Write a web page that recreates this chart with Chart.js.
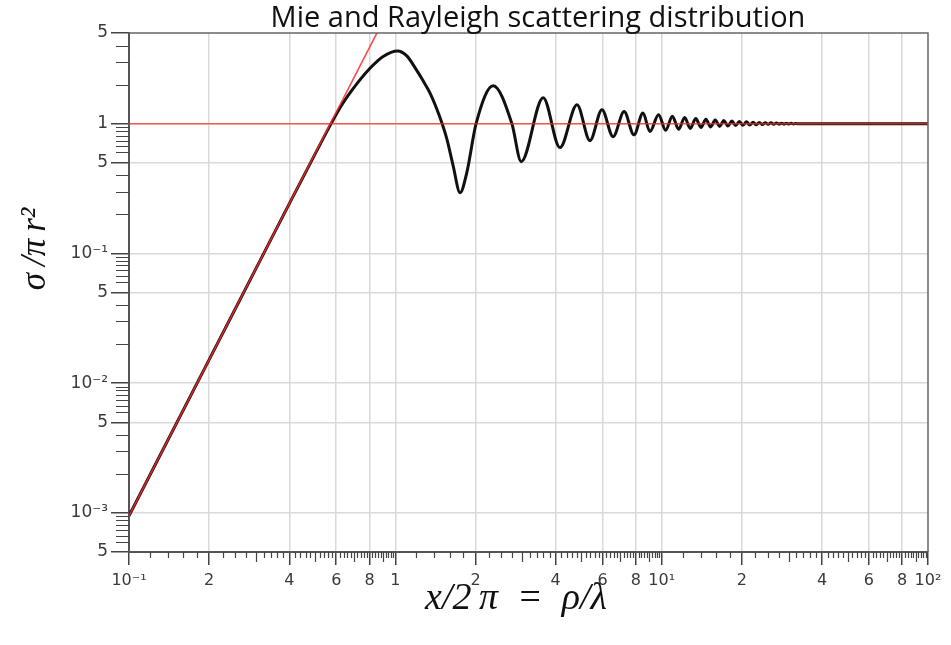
<!DOCTYPE html>
<html>
<head>
<meta charset="utf-8">
<title>Mie and Rayleigh scattering distribution</title>
<script src="https://cdn.jsdelivr.net/npm/chart.js@4.4.1/dist/chart.umd.min.js"></script>
<style>
  html, body { margin: 0; padding: 0; background: #fff; }
  #wrap { width: 951px; height: 645px; position: relative; }
</style>
</head>
<body>
<div id="wrap"><canvas id="mieChart"></canvas></div>
<script>
// Mie curve (black): x = rho/lambda, y = sigma / (pi r^2)
const mieX = [0.1, 0.2, 0.3, 0.4, 0.5, 0.57, 0.63, 0.68, 0.8, 0.9, 1.02,
  1.104, 1.2, 1.27, 1.35, 1.47, 1.56, 1.647, 1.75, 1.855, 2.01, 2.33, 2.74,
  2.97, 3.59, 4.15, 4.81, 5.38, 5.97, 6.57, 7.23, 7.87, 8.51,
  9.03, 9.74, 10.35, 10.97, 11.58, 12.2, 12.8, 13.43, 14.05, 14.66,
  15.27, 15.89, 16.5, 17.12, 17.73, 18.35, 18.96, 19.58, 20.2, 20.81,
  21.42, 22.04, 22.65, 23.27, 23.88, 24.5, 25.11, 25.73, 26.34, 26.96,
  27.57, 28.19, 28.8, 29.42, 30.03, 30.65, 31.26, 31.88, 32.5, 40,
  60, 100];
const mieY = [0.00095, 0.0152, 0.0767, 0.242, 0.585, 0.975, 1.4, 1.76, 2.65, 3.3, 3.64,
  3.33, 2.6, 2.15, 1.72, 1.12, 0.767, 0.478, 0.294, 0.42, 1.0, 1.96, 1.0,
  0.51, 1.585, 0.654, 1.40, 0.74, 1.28, 0.794, 1.24, 0.82, 1.21,
  0.87, 1.17, 0.89, 1.14, 0.905, 1.115, 0.92, 1.095, 0.935, 1.08,
  0.945, 1.068, 0.953, 1.058, 0.96, 1.048, 0.967, 1.04, 0.972, 1.034,
  0.977, 1.028, 0.981, 1.023, 0.985, 1.019, 0.988, 1.015, 0.99, 1.012,
  0.992, 1.01, 0.994, 1.008, 0.995, 1.006, 0.996, 1.005, 0.997, 1.0,
  1.0, 1.0];

// Rayleigh asymptote and geometric-optics limit (red)
const rayleighX = [0.1, 0.9];
const rayleighY = [0.00095, 6.2];
const geometricX = [0.1, 100];
const geometricY = [1, 1];

// axis ticks
const xTickValues = [0.1, 0.2, 0.4, 0.6, 0.8, 1, 2, 4, 6, 8, 10, 20, 40, 60, 80, 100];
const xTickLabels = ['10⁻¹', '2', '4', '6', '8', '1', '2', '4', '6', '8', '10¹', '2', '4', '6', '8', '10²'];
const yTickValues = [0.0005, 0.001, 0.005, 0.01, 0.05, 0.1, 0.5, 1, 5];
const yTickLabels = ['5', '10⁻³', '5', '10⁻²', '5', '10⁻¹', '5', '1', '5'];

// unlabeled small ticks, as mantissas per decade
const decades = [0.0001, 0.001, 0.01, 0.1, 1, 10];
const xMinorMantissas = [1.2, 1.4, 1.6, 1.8, 2.25, 2.5, 2.75, 3.2, 3.4, 3.6, 3.8, 4.2, 4.4, 4.6, 4.8,
  5.2, 5.4, 5.6, 5.8, 6.2, 6.4, 6.6, 6.8, 7.2, 7.4, 7.6, 7.8, 8.2, 8.4, 8.6, 8.8, 9.2, 9.4, 9.6, 9.8];
const xMidMantissas = [3, 5, 7, 9];
const yMinorMantissas = [2, 3, 4, 6, 6.7, 7.4, 8.1, 8.8, 9.4];

const toPoints = (xs, ys) => xs.map((x, i) => ({ x: x, y: ys[i] }));

const axisExtras = {
    id: 'axisExtras',
    afterDraw(chart) {
        const { ctx, chartArea: area, scales } = chart;
        const xs = scales.x;
        const ys = scales.y;
        ctx.save();

        // top and right frame
        ctx.strokeStyle = '#666';
        ctx.lineWidth = 1.5;
        ctx.beginPath();
        ctx.moveTo(area.left, area.top);
        ctx.lineTo(area.right, area.top);
        ctx.lineTo(area.right, area.bottom);
        ctx.stroke();

        // small ticks
        ctx.strokeStyle = '#444';
        ctx.lineWidth = 1.2;
        ctx.beginPath();
        decades.forEach(d => {
            xMinorMantissas.concat(xMidMantissas).forEach(m => {
                const v = m * d;
                if (v <= xs.min || v >= xs.max) return;
                const px = Math.round(xs.getPixelForValue(v)) + 0.5;
                const len = xMidMantissas.includes(m) ? 10 : 6;
                ctx.moveTo(px, area.bottom);
                ctx.lineTo(px, area.bottom + len);
            });
            yMinorMantissas.forEach(m => {
                const v = m * d;
                if (v <= ys.min || v >= ys.max) return;
                const py = Math.round(ys.getPixelForValue(v)) + 0.5;
                ctx.moveTo(area.left - 13, py);
                ctx.lineTo(area.left, py);
            });
        });
        ctx.stroke();

        // titles
        ctx.fillStyle = '#111';
        ctx.textAlign = 'center';
        ctx.textBaseline = 'alphabetic';
        ctx.font = '29px "Open Sans"';
        ctx.fillText('Mie and Rayleigh scattering distribution', 538, 27);

        ctx.font = 'italic 38px "Liberation Serif"';
        ctx.fillText('x/2\u2009π\u2002=\u2002ρ/λ', 516, 609);

        ctx.font = 'italic 35px "Liberation Serif"';
        ctx.translate(45, 249);
        ctx.rotate(-Math.PI / 2);
        ctx.fillText('σ\u2009/π\u2009r²', 0, 0);
        ctx.restore();
    }
};

new Chart(document.getElementById('mieChart'), {
    type: 'line',
    data: {
        datasets: [
            {
                label: 'Rayleigh',
                data: toPoints(rayleighX, rayleighY),
                borderColor: 'rgba(255, 40, 40, 0.85)',
                borderWidth: 1.6,
                pointRadius: 0,
                order: 0,
            },
            {
                label: 'Geometric',
                data: toPoints(geometricX, geometricY),
                borderColor: 'rgba(255, 40, 40, 0.75)',
                borderWidth: 1.6,
                pointRadius: 0,
                order: 0,
            },
            {
                label: 'Mie',
                data: toPoints(mieX, mieY),
                borderColor: '#111',
                borderWidth: 3,
                pointRadius: 0,
                cubicInterpolationMode: 'monotone',
                borderJoinStyle: 'round',
                order: 1,
            },
        ],
    },
    options: {
        responsive: true,
        maintainAspectRatio: false,
        animation: false,
        layout: { padding: { top: 33, right: 23, left: 0, bottom: 0 } },
        plugins: {
            legend: { display: false },
            tooltip: { enabled: false },
            title: { display: false },
        },
        scales: {
            x: {
                type: 'logarithmic',
                min: 0.1,
                max: 100,
                afterBuildTicks: scale => { scale.ticks = xTickValues.map(v => ({ value: v })); },
                afterFit: scale => { scale.height = 93; },
                ticks: {
                    autoSkip: false,
                    maxRotation: 0,
                    padding: 6,
                    color: '#3a3a3a',
                    font: { family: 'DejaVu Sans', size: 16 },
                    callback: (value, index) => xTickLabels[index],
                },
                grid: {
                    color: c => (c.index === 0 || c.index === xTickValues.length - 1) ? 'rgba(0,0,0,0)' : '#dadada',
                    lineWidth: 1.5,
                    tickColor: '#444',
                    tickLength: 13,
                    tickWidth: 1.5,
                },
                border: { color: '#555', width: 2 },
            },
            y: {
                type: 'logarithmic',
                min: 0.0005,
                max: 5,
                afterBuildTicks: scale => { scale.ticks = yTickValues.map(v => ({ value: v })); },
                afterFit: scale => { scale.width = 129; },
                ticks: {
                    autoSkip: false,
                    padding: 3,
                    color: '#3a3a3a',
                    font: { family: 'DejaVu Sans', size: 17 },
                    callback: (value, index) => yTickLabels[index],
                },
                grid: {
                    color: c => (c.index === 0 || c.index === yTickValues.length - 1) ? 'rgba(0,0,0,0)' : '#dadada',
                    lineWidth: 1.5,
                    tickColor: '#444',
                    tickLength: 18,
                    tickWidth: 1.5,
                },
                border: { color: '#555', width: 2 },
            },
        },
    },
    plugins: [axisExtras],
});
</script>
</body>
</html>
